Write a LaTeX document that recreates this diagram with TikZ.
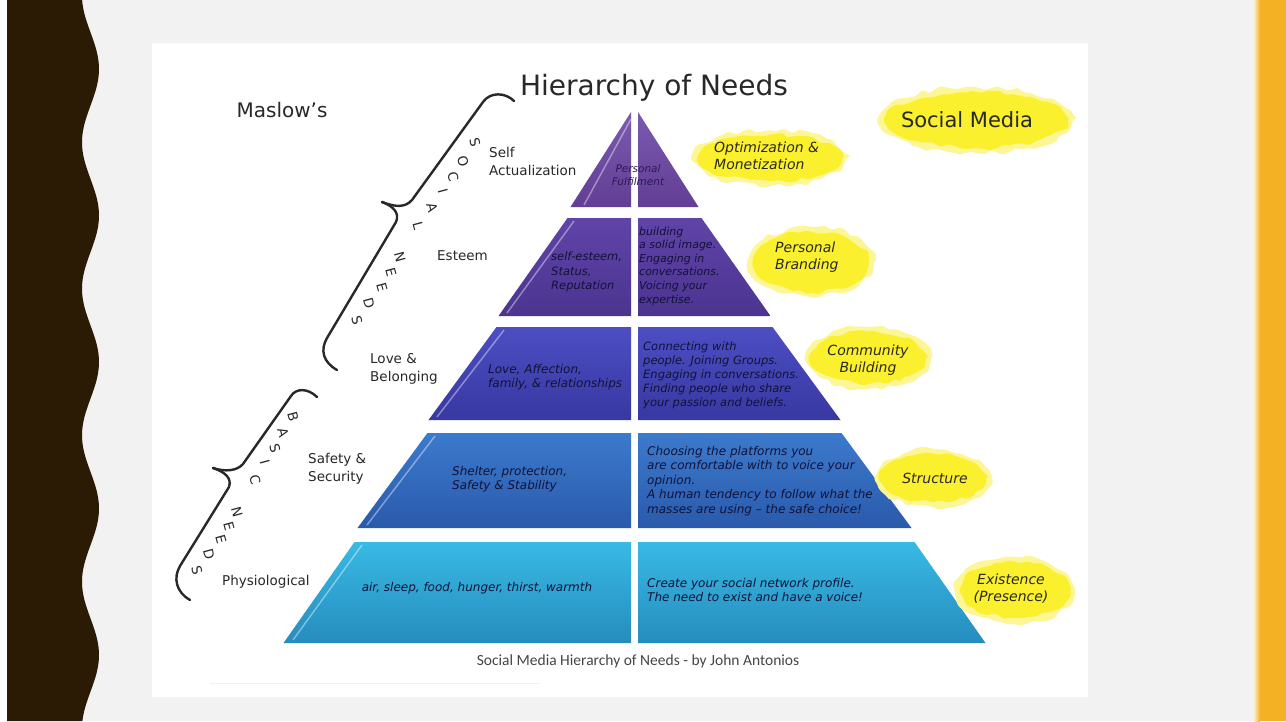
\documentclass[tikz,border=0pt]{standalone}
\usepackage{fontspec}
\setmainfont{DejaVu Sans}
\newfontfamily\capfont{Carlito}
\usetikzlibrary{decorations.pathmorphing}
\definecolor{bggray}{RGB}{242,242,242}
\definecolor{brownband}{RGB}{43,27,5}
\definecolor{orangeband}{RGB}{245,177,36}
\definecolor{ycore}{RGB}{250,240,45}
\definecolor{yhalo}{RGB}{252,246,150}
\definecolor{inktext}{RGB}{40,40,40}
\definecolor{innertext}{RGB}{18,18,55}
\definecolor{fulfiltext}{RGB}{45,25,85}
\definecolor{capgray}{RGB}{70,70,70}
\definecolor{lAt}{RGB}{122,90,176}\definecolor{lAb}{RGB}{98,62,148}
\definecolor{lBt}{RGB}{96,68,168}\definecolor{lBb}{RGB}{75,52,144}
\definecolor{lCt}{RGB}{76,78,194}\definecolor{lCb}{RGB}{56,56,162}
\definecolor{lDt}{RGB}{60,122,204}\definecolor{lDb}{RGB}{42,90,172}
\definecolor{lEt}{RGB}{56,186,228}\definecolor{lEb}{RGB}{38,140,190}
\def\pcx{634.5}
\newcommand\pyrlevel[6]{%
  \shade[top color=#5,bottom color=#6] ({\pcx-#3},#1) -- ({\pcx-3.5},#1) -- ({\pcx-3.5},#2) -- ({\pcx-#4},#2) -- cycle;
  \shade[top color=#5,bottom color=#6] ({\pcx+3.5},#1) -- ({\pcx+#3},#1) -- ({\pcx+#4},#2) -- ({\pcx+3.5},#2) -- cycle;
}
\newcommand\yblob[4]{%
  \fill[yhalo, decorate, decoration={random steps,segment length=7pt,amplitude=3pt}, rounded corners=3pt] (#1,#2) ellipse ({#3+5} and {#4+5});
  \fill[ycore, decorate, decoration={random steps,segment length=6pt,amplitude=2.5pt}, rounded corners=2pt] (#1,#2) ellipse (#3 and #4);
}
\tikzset{
  lbl/.style={font=\fontsize{13.5}{18}\selectfont, text=inktext, align=left, anchor=west, inner sep=0},
  innertxt/.style={font=\fontsize{12}{14.4}\selectfont\itshape, text=innertext, align=left, inner sep=0},
  ylbl/.style={font=\fontsize{14}{17}\selectfont\itshape, text=inktext, align=left, inner sep=0},
  letter/.style={font=\fontsize{13.5}{13.5}\selectfont, text=inktext, rotate=-75, inner sep=0},
  bracestroke/.style={line width=2.4pt, draw=inktext, line cap=round, line join=round},
  highlight/.style={draw=white, opacity=0.4, line width=1.5pt},
}
\begin{document}
\pgfmathsetseed{42}
\begin{tikzpicture}[x=1pt,y=-1pt]
\useasboundingbox (0,0) rectangle (1286,721);
\fill[white] (0,0) rectangle (1286,721);
\fill[bggray] (7,0) rectangle (1258,721);
% left wavy band
\fill[brownband] (7,0) -- plot[domain=0:721, samples=200, variable=\t] ({90.5+8.5*cos((\t-69)*2.45734)}, {\t}) -- (7,721) -- cycle;
% right band
\shade[left color=orangeband!25, right color=orangeband] (1254,0) rectangle (1260,721);
\fill[orangeband] (1260,0) rectangle (1286,721);
% card
\fill[white] (152,43) rectangle (1088,697);
\draw[gray!12, line width=0.8pt] (210,683) -- (540,683);

% pyramid
\pyrlevel{112}{207}{3.5}{64}{lAt}{lAb}
\pyrlevel{218}{316}{67}{136}{lBt}{lBb}
\pyrlevel{327}{420}{138}{206}{lCt}{lCb}
\pyrlevel{433}{528}{207}{277}{lDt}{lDb}
\pyrlevel{542}{643}{280}{351}{lEt}{lEb}
\draw[highlight] (631,119) -- (584,205);
\draw[highlight] (574,221) -- (507,313);
\draw[highlight] (504,330) -- (437,417);
\draw[highlight] (435,436) -- (367,525);
\draw[highlight] (362,545) -- (293,640);

% yellow highlighter blobs
\yblob{976}{120}{92}{28}
\yblob{770}{158}{72}{23}
\yblob{811}{262}{58}{30}
\yblob{868}{358}{58}{26}
\yblob{933}{478}{53}{24}
\yblob{1015}{590}{55}{28}

% braces
\draw[bracestroke] (514,101) .. controls (505,92) and (490,92) .. (483,102) -- (412,200) .. controls (405,208) and (395,207) .. (382,202);
\draw[bracestroke] (382,202) .. controls (393,206) and (400,213) .. (396,222) -- (327,338) .. controls (320,350) and (323,362) .. (337,370);
\draw[bracestroke] (317,397) .. controls (308,388) and (296,388) .. (291,396) -- (243,464) .. controls (237,471) and (225,472) .. (213,468);
\draw[bracestroke] (213,468) .. controls (225,472) and (232,478) .. (229,487) -- (180,566) .. controls (173,578) and (176,592) .. (190,600);

% brace letters
\node[letter] (s1) at (475,142) {S};
\node[letter] (s2) at (463,161) {O};
\node[letter] (s3) at (453,177) {C};
\node[letter] (s4) at (443,191) {I};
\node[letter] (s5) at (432,208) {A};
\node[letter] (s6) at (418,226) {L};
\node[letter] (n1) at (400,257) {N};
\node[letter] (n2) at (391,272) {E};
\node[letter] (n3) at (382,287) {E};
\node[letter] (n4) at (369,303) {D};
\node[letter] (n5) at (357,320) {S};
\node[letter] (b1) at (293,417) {B};
\node[letter] (b2) at (283,433) {A};
\node[letter] (b3) at (275,448) {S};
\node[letter] (b4) at (265,462) {I};
\node[letter] (b5) at (255,480) {C};
\node[letter] (m1) at (237,512) {N};
\node[letter] (m2) at (229,526) {E};
\node[letter] (m3) at (221,539) {E};
\node[letter] (m4) at (209,554) {D};
\node[letter] (m5) at (197,570) {S};

% titles
\node[font=\fontsize{20}{20}\selectfont, text=inktext, inner sep=0] (maslow) at (282,110) {Maslow's};
\node[font=\fontsize{28}{28}\selectfont, text=inktext, inner sep=0] (title) at (654,88) {Hierarchy of Needs};
\node[font=\fontsize{21}{21}\selectfont, text=inktext, inner sep=0] (social) at (967,120) {Social Media};

% yellow labels
\node[ylbl, anchor=west] (optim) at (714,156) {Optimization \&\\Monetization};
\node[ylbl, anchor=west] (brand) at (775,257) {Personal\\Branding};
\node[ylbl, align=center] (commun) at (868,360) {Community\\Building};
\node[ylbl] (struct) at (935,478) {Structure};
\node[ylbl, align=center] (exist) at (1011,589) {Existence\\(Presence)};

% left labels
\node[lbl] (selfact) at (489,161) {Self\\Actualization};
\node[lbl] (esteem) at (437,256) {Esteem};
\node[lbl] (love) at (370,369) {Love \&\\Belonging};
\node[lbl] (safety) at (308,469) {Safety \&\\Security};
\node[lbl] (physio) at (222,582) {Physiological};

% inner texts
\node[innertxt, align=center, font=\fontsize{10.5}{13}\selectfont\itshape, text=fulfiltext] (fulfil) at (638,175) {Personal\\Fulfilment};
\node[innertxt, anchor=west, font=\fontsize{11.5}{14.4}\selectfont\itshape] (esteemL) at (551,272) {self-esteem,\\Status,\\Reputation};
\node[innertxt, anchor=west, font=\fontsize{11}{13.6}\selectfont\itshape] (esteemR) at (639,266) {building\\a solid image.\\Engaging in\\conversations.\\Voicing your\\expertise.};
\node[innertxt, anchor=west] (loveL) at (488,377) {Love, Affection,\\family, \& relationships};
\node[innertxt, anchor=west, font=\fontsize{11.5}{14}\selectfont\itshape] (loveR) at (643,375) {Connecting with\\people. Joining Groups.\\Engaging in conversations.\\Finding people who share\\your passion and beliefs.};
\node[innertxt, anchor=west] (safetyL) at (452,479) {Shelter, protection,\\Safety \& Stability};
\node[innertxt, anchor=west] (safetyR) at (647,481) {Choosing the platforms you\\are comfortable with to voice your\\opinion.\\A human tendency to follow what the\\masses are using -- the safe choice!};
\node[innertxt] (physL) at (477,588) {air, sleep, food, hunger, thirst, warmth};
\node[innertxt, anchor=west] (physR) at (647,590) {Create your social network profile.\\The need to exist and have a voice!};

% caption
\node[font=\capfont\fontsize{15.5}{15.5}\selectfont, text=capgray, inner sep=0] (caption) at (638,661) {Social Media Hierarchy of Needs - by John Antonios};
\end{tikzpicture}
\end{document}
